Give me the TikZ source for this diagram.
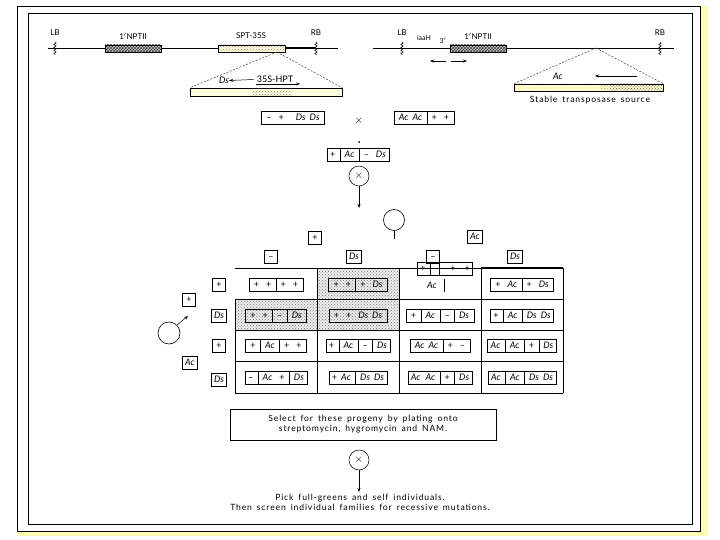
\documentclass[tikz,border=0pt]{standalone}
\usepackage{fontspec}
\setmainfont{Lato}
\newfontfamily\capfont[LetterSpace=10, WordSpace=1.6]{Lato}
\usetikzlibrary{patterns,decorations.pathmorphing,arrows.meta}
\newcommand\gsep{\hspace{4.5pt}\vrule\hspace{4.5pt}}
\newcommand\ggap{\hspace{7pt}}
\newcommand\gst{\rule[-3.5pt]{0pt}{12.5pt}}
\newcommand\gDs{\textit{Ds}}
\newcommand\gAc{\textit{Ac}}
\newcommand\mn{–}
\tikzset{
 lbl/.style={font=\fontsize{8}{9}\selectfont, inner sep=0pt},
 geno/.style={draw, line width=0.6pt, inner xsep=5pt, inner ysep=0pt, font=\fontsize{9}{10}\selectfont},
 gam/.style={draw, line width=0.6pt, inner xsep=2.5pt, inner ysep=0pt, minimum width=13pt, font=\fontsize{9}{10}\selectfont},
 captxt/.style={font=\capfont\fontsize{8.6}{10}\selectfont, align=center, inner sep=0pt},
 dsh/.style={dash pattern=on 2pt off 1.5pt, line width=0.5pt, black!75},
 arr/.style={-{Stealth[length=4pt,width=3pt]}, line width=0.5pt},
 selfx/.style={circle, draw, line width=0.5pt, inner sep=0pt, minimum size=20pt, font=\fontsize{11}{11}\selectfont},
 sq/.style={decorate, decoration={snake, amplitude=1.2pt, segment length=3pt}, line width=0.5pt},
 gbox/.style={draw, line width=0.5pt, inner sep=0pt},
}
\begin{document}
\begin{tikzpicture}[x=1pt, y=-1pt]
\useasboundingbox (0,0) rectangle (720,540);
% frame
\fill[yellow!30] (700,6) rectangle (708,536);
\fill[yellow!30] (17,531) rectangle (708,536);
\draw[line width=0.8pt] (17,6) rectangle (700,531);
\draw[line width=1pt] (28,14) rectangle (692,524);

% ---------- left construct ----------
\draw[line width=0.5pt] (48,48) -- (338,48);
\draw[line width=1pt] (285,48) -- (316,48);
\fill[black!20] (105,45) rectangle (161,52);
\fill[pattern=crosshatch, pattern color=black!75] (105,45) rectangle (161,52);
\node[gbox, minimum width=56pt, minimum height=7pt] (nptL) at (133,48.5) {};
\fill[yellow!15] (218,45) rectangle (285,52);
\fill[pattern=crosshatch dots, pattern color=black!45] (218,45) rectangle (285,52);
\node[gbox, minimum width=67pt, minimum height=7pt] (sptL) at (251.5,48.5) {};
\draw[sq] (55,42) -- (55,55);
\draw[sq] (316,42) -- (316,55);
\node[lbl] (lbL) at (55,33) {LB};
\node[lbl] (rbL) at (316,33) {RB};
\node[lbl] (nptLl) at (133,36) {1$'$NPTII};
\node[lbl] (sptLl) at (251,36) {SPT-35S};
\coordinate (apL) at (277,52);
\fill[yellow!12] (190,88) rectangle (342,96);
\fill[pattern=crosshatch dots, pattern color=black!55] (252,92) rectangle (292,96);
\node[gbox, minimum width=152pt, minimum height=8pt] (expDs) at (266,92) {};
\draw[dsh] (apL) -- (expDs.north west);
\draw[dsh] (apL) -- (expDs.north east);
\node[lbl, font=\fontsize{9}{9}\selectfont] (dsT) at (224,80.5) {\gDs};
\node[lbl, font=\fontsize{9}{9}\selectfont] (hpt) at (275,79.5) {35S-HPT};
\draw[arr] (hpt.west) ++(-3,0) -- (dsT.east);
\draw[arr] (256,84) -- (300,84);

% ---------- right construct ----------
\draw[line width=0.5pt] (373,48) -- (674,48);
\fill[black!20] (450,45) rectangle (506,52);
\fill[pattern=crosshatch, pattern color=black!75] (450,45) rectangle (506,52);
\node[gbox, minimum width=56pt, minimum height=7pt] (nptR) at (478,48.5) {};
\draw[sq] (402,42) -- (402,55);
\draw[sq] (660,42) -- (660,55);
\node[lbl] (lbR) at (402,33) {LB};
\node[lbl] (rbR) at (660,33) {RB};
\node[lbl] (nptRl) at (478,36) {1$'$NPTII};
\node[lbl, font=\fontsize{7}{7}\selectfont] (iaa) at (424,38) {iaaH};
\node[lbl, font=\fontsize{7}{7}\selectfont] (tr) at (443,41) {3$'$};
\draw[arr] (446,61) -- (430,61);
\draw[arr] (451,61) -- (467,61);
\coordinate (apR) at (596,48);
\fill[yellow!22] (514,84) rectangle (663,91);
\fill[pattern=crosshatch dots, pattern color=black!35] (514,84) rectangle (663,91);
\fill[yellow!22] (514,84) rectangle (600,91);
\fill[pattern=crosshatch dots, pattern color=black!55] (610,84) rectangle (663,91);
\node[gbox, minimum width=149pt, minimum height=7pt] (acBox) at (588.5,87.5) {};
\draw[dsh] (apR) -- (acBox.north west);
\draw[dsh] (apR) -- (acBox.north east);
\node[lbl, font=\fontsize{9}{9}\selectfont] (acT) at (558,76.5) {\gAc};
\coordinate (acS) at (637,76);
\coordinate (acE) at (595,76);
\draw[arr] (acS) -- (acE);
\node[captxt] (stab) at (590,100) {Stable transposase source};

% ---------- crosses ----------
\node[geno] (p1) at (293,118) {\gst\mn\ggap+\hspace{12pt}\gDs\hspace{4pt}\gDs};
\node[font=\fontsize{11}{11}\selectfont, inner sep=0pt] (x1) at (359,121) {$\times$};
\node[geno] (p2) at (424,118) {\gst\gAc\hspace{4pt}\gAc\gsep+\ggap+};
\fill (359,142) circle (1pt);
\node[geno, inner xsep=3pt] (f1) at (358,155) {\gst+\gsep\gAc\gsep\mn\ggap\gDs};
\node[selfx] (s1) at (359,176) {$\times$};
\coordinate (s1e) at (359,208);
\draw[arr] (s1) -- (s1e);

% female
\node[circle, draw, line width=0.6pt, minimum size=21pt, inner sep=0pt] (fem) at (394,220) {};
\coordinate (femE) at (394,239);
\draw[line width=0.6pt] (fem.south) -- (femE);
\node[gam] (fA1) at (315,238) {\gst+};
\node[gam] (fA2) at (475,237) {\gst\gAc};
\node[gam] (fB1) at (271,257) {\gst\mn};
\node[gam] (fB2) at (354,257) {\gst\gDs};
\node[gam] (fB3) at (433,257) {\gst\mn};
\node[gam] (fB4) at (515,257) {\gst\gDs};

% male
\node[circle, draw, line width=0.6pt, minimum size=22pt, inner sep=0pt] (male) at (169,333) {};
\coordinate (maleE) at (188,316);
\draw[arr] (male.north east) -- (maleE);
\node[gam] (mA1) at (189,300) {\gst+};
\node[gam] (mA2) at (190,363) {\gst\gAc};
\node[gam] (mB1) at (219,285) {\gst+};
\node[gam] (mB2) at (219,316) {\gst\gDs};
\node[gam] (mB3) at (219,346) {\gst+};
\node[gam] (mB4) at (219,380) {\gst\gDs};

% ---------- grid ----------
\fill[black!8] (317,268) rectangle (399,330);
\fill[black!8] (235,299) rectangle (317,330);
\fill[pattern=crosshatch dots, pattern color=black!50] (317,268) rectangle (399,330);
\fill[pattern=crosshatch dots, pattern color=black!50] (235,299) rectangle (317,330);
\draw[line width=0.6pt] (235,268) -- (481,268);
\draw[line width=1.6pt] (481,268) -- (563,268);
\foreach \yy in {299,330,361,393} \draw[line width=0.7pt] (235,\yy) -- (563,\yy);
\foreach \xx in {317,399,481,563} \draw[line width=0.7pt] (\xx,268) -- (\xx,393);
\draw[line width=0.7pt] (235,299) -- (235,393);

% row 1
\node[geno] (g11) at (276,285) {\gst+\ggap+\gsep+\ggap+};
\node[geno] (g12) at (358,285) {\gst+\ggap+\gsep+\ggap\gDs};
\node[geno, inner xsep=3pt] (g13) at (445,269) {\gst+\gsep\hspace{4pt}\vrule\hspace{11pt}+\hspace{9pt}+};
\node[font=\fontsize{9}{10}\selectfont, inner sep=0pt] (g13b) at (432,285) {\gAc};
\coordinate (g13t) at (444,279);
\coordinate (g13u) at (444,292);
\draw[line width=0.6pt] (g13t) -- (g13u);
\node[geno] (g14) at (522,285) {\gst+\ggap\gAc\gsep+\ggap\gDs};
% row 2
\node[geno] (g21) at (276,316) {\gst+\ggap+\gsep\mn\gsep\gDs};
\node[geno] (g22) at (358,316) {\gst+\ggap+\ggap\gDs\hspace{4pt}\gDs};
\node[geno] (g23) at (440,316) {\gst+\gsep\gAc\gsep\mn\gsep\gDs};
\node[geno, inner xsep=3pt] (g24) at (522,316) {\gst+\gsep\gAc\gsep\gDs\hspace{4pt}\gDs};
% row 3
\node[geno] (g31) at (276,346) {\gst+\gsep\gAc\gsep+\ggap+};
\node[geno, inner xsep=3pt] (g32) at (358,346) {\gst+\gsep\gAc\gsep\mn\gsep\gDs};
\node[geno] (g33) at (440,346) {\gst\gAc\hspace{4pt}\gAc\gsep+\ggap\mn};
\node[geno, inner xsep=3pt] (g34) at (522,346) {\gst\gAc\gsep\gAc\gsep+\gsep\gDs};
% row 4
\node[geno, inner xsep=3pt] (g41) at (276,378) {\gst\mn\gsep\gAc\ggap+\gsep\gDs};
\node[geno, inner xsep=3pt] (g42) at (358,378) {\gst+\hspace{4pt}\gAc\gsep\gDs\hspace{4pt}\gDs};
\node[geno, inner xsep=3pt] (g43) at (440,378) {\gst\gAc\hspace{5pt}\gAc\gsep+\gsep\gDs};
\node[geno, inner xsep=3pt] (g44) at (522,378) {\gst\gAc\gsep\gAc\gsep\gDs\hspace{4pt}\gDs};

% ---------- bottom ----------
\node[draw, line width=0.8pt, minimum width=266pt, minimum height=31pt, inner sep=0pt] (sel) at (363,424.5) {};
\node[captxt] (selT) at (363,424) {Select for these progeny by plating onto\\streptomycin, hygromycin and NAM.};
\node[selfx] (s2) at (359,460) {$\times$};
\coordinate (s2e) at (359,492);
\draw[arr] (s2) -- (s2e);
\node[captxt, anchor=north] (fin) at (360,494) {Pick full-greens and self individuals.\\Then screen individual families for recessive mutations.};
\end{tikzpicture}
\end{document}
